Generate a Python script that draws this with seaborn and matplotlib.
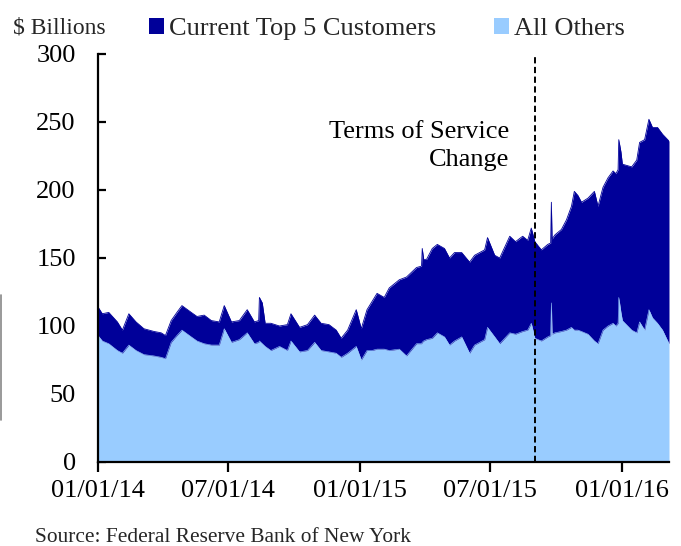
import matplotlib
matplotlib.use("Agg")
import matplotlib.pyplot as plt
import matplotlib.dates as mdates
from matplotlib.patches import Patch
from matplotlib.lines import Line2D
import seaborn as sns
import pandas as pd

# ---- data ($ billions) ----
dates = [
    "2014-01-01", "2014-01-07", "2014-01-16", "2014-01-28", "2014-02-04", "2014-02-13",
    "2014-02-23", "2014-03-06", "2014-03-20", "2014-03-30", "2014-04-05", "2014-04-13",
    "2014-04-21", "2014-04-28", "2014-05-11", "2014-05-19", "2014-05-29", "2014-06-08",
    "2014-06-19", "2014-06-26", "2014-07-06", "2014-07-17", "2014-07-28", "2014-08-07",
    "2014-08-13", "2014-08-14", "2014-08-18", "2014-08-22", "2014-08-30", "2014-09-11",
    "2014-09-22", "2014-09-27", "2014-10-09", "2014-10-20", "2014-10-30", "2014-11-08",
    "2014-11-19", "2014-11-29", "2014-12-06", "2014-12-15", "2014-12-27", "2015-01-03",
    "2015-01-11", "2015-01-18", "2015-01-25", "2015-02-04", "2015-02-11", "2015-02-25",
    "2015-03-07", "2015-03-21", "2015-03-28", "2015-03-29", "2015-03-31", "2015-04-04",
    "2015-04-12", "2015-04-19", "2015-04-29", "2015-05-06", "2015-05-13", "2015-05-23",
    "2015-06-03", "2015-06-10", "2015-06-24", "2015-06-28", "2015-07-08", "2015-07-15",
    "2015-07-29", "2015-08-06", "2015-08-16", "2015-08-23", "2015-08-28", "2015-09-02",
    "2015-09-11", "2015-09-20", "2015-09-24", "2015-09-25", "2015-09-26", "2015-09-30",
    "2015-10-09", "2015-10-16", "2015-10-23", "2015-10-27", "2015-11-01", "2015-11-06",
    "2015-11-15", "2015-11-24", "2015-11-29", "2015-12-06", "2015-12-13", "2015-12-20",
    "2015-12-24", "2015-12-27", "2015-12-28", "2015-12-31", "2016-01-02", "2016-01-15",
    "2016-01-22", "2016-01-26", "2016-02-02", "2016-02-08", "2016-02-13", "2016-02-20",
    "2016-02-27", "2016-03-07",
]
all_others = [
    93, 89, 87, 82, 80, 86,
    82, 79, 78, 77, 76, 88,
    93, 97, 92, 89, 87, 86,
    86, 98, 88, 90, 95, 87,
    88, 89, 87, 85, 82, 85,
    82, 89, 81, 82, 88, 82,
    81, 80, 77, 80, 85, 75,
    82, 82, 83, 83, 82, 83,
    78, 87, 87, 88, 89, 90,
    91, 95, 92, 86, 89, 92,
    80, 86, 90, 99, 92, 87,
    95, 94, 96, 97, 102, 91,
    89, 92, 93, 117, 94, 95,
    96, 97, 99, 97, 97, 96,
    94, 89, 87, 97, 100, 102,
    100, 102, 121, 110, 104, 97,
    95, 103, 97, 112, 106, 102,
    97, 87,
]
top5_customers = [
    21, 20, 23, 21, 17, 23,
    21, 19, 18, 18, 17, 16,
    17, 18, 18, 18, 21, 18,
    17, 17, 15, 14, 17, 16,
    16, 32, 30, 17, 20, 15,
    19, 20, 18, 19, 20, 20,
    20, 17, 14, 17, 27, 23,
    30, 36, 41, 38, 46, 51,
    58, 56, 57, 69, 60, 59,
    66, 65, 65, 64, 65, 62,
    67, 66, 66, 66, 60, 63,
    71, 68, 70, 66, 70, 71,
    67, 68, 68, 74, 70, 72,
    75, 81, 89, 102, 99, 95,
    100, 110, 101, 105, 109, 112,
    112, 113, 116, 118, 115, 120,
    127, 132, 140, 140, 140, 144,
    144, 149,
]
x_ticks = ["2014-01-01", "2014-07-01", "2015-01-01", "2015-07-01", "2016-01-01"]
y_ticks = [0, 50, 100, 150, 200, 250, 300]
event_date = "2015-09-02"
event_label = "Terms of Service\nChange"
series_names = ["Current Top 5 Customers", "All Others"]

dark = "#000099"
light = "#99CCFF"

sns.set_theme(style="white")
plt.rcParams["font.family"] = ["Liberation Serif", "DejaVu Serif"]

df = pd.DataFrame({
    "date": pd.to_datetime(dates),
    "others": all_others,
    "top5": top5_customers,
})
df["total"] = df["others"] + df["top5"]

W, H = 681, 546
fig = plt.figure(figsize=(W / 100, H / 100), dpi=100)
ax = fig.add_axes([98 / W, 1 - 462 / H, (669 - 98) / W, (462 - 54) / H])

ax.fill_between(df["date"], 0, df["others"], color=light, lw=0, zorder=1)
ax.fill_between(df["date"], df["others"], df["total"], color=dark, lw=0, zorder=2)
sns.lineplot(data=df, x="date", y="total", ax=ax, color=dark, lw=0.6, zorder=3)
sns.lineplot(data=df, x="date", y="others", ax=ax, color=light, lw=0.4, zorder=2.5)

ax.axvline(pd.Timestamp(event_date), color="black", ls=(0, (3.2, 1.8)), lw=1.4, zorder=4)
ax.text(0.72, 0.775, event_label, transform=ax.transAxes, ha="right", va="center",
        fontsize=19, linespacing=1.35, color="black")

ax.set_xlim(df["date"].iloc[0], df["date"].iloc[-1])
ax.set_ylim(0, 300)
ax.set_yticks(y_ticks)
ax.set_xticks(pd.to_datetime(x_ticks))
ax.xaxis.set_major_formatter(mdates.DateFormatter("%m/%d/%y"))
ax.set_xlabel("")
ax.set_ylabel("")

for s in ["top", "right"]:
    ax.spines[s].set_visible(False)
for s in ["left", "bottom"]:
    ax.spines[s].set_color("black")
    ax.spines[s].set_linewidth(1.6)
    ax.spines[s].set_zorder(5)

ax.tick_params(axis="y", direction="in", length=6, width=1.6, pad=16, labelsize=19,
               colors="black", left=True)
ax.tick_params(axis="x", direction="out", length=7, width=1.6, pad=6, labelsize=19,
               colors="black", bottom=True)
ax.grid(False)

fig.text(13 / W, 1 - 28 / H, "$ Billions", fontsize=17, ha="left", va="center")

handles = [Patch(facecolor=dark, edgecolor="none"), Patch(facecolor=light, edgecolor="none")]
fig.legend(handles, series_names, loc="center", bbox_to_anchor=(387 / W, 1 - 29 / H),
           ncol=2, frameon=False, fontsize=19, handlelength=0.55, handleheight=0.55,
           handletextpad=0.2, columnspacing=2.2, borderaxespad=0, borderpad=0)

fig.text(35 / W, 1 - 537 / H, "Source: Federal Reserve Bank of New York",
         fontsize=15.4, ha="left", va="center")

fig.add_artist(Line2D([1 / W, 1 / W], [1 - 420 / H, 1 - 295 / H], color="#888888",
                      lw=1.2, transform=fig.transFigure))

fig.savefig("out.png", dpi=100)
